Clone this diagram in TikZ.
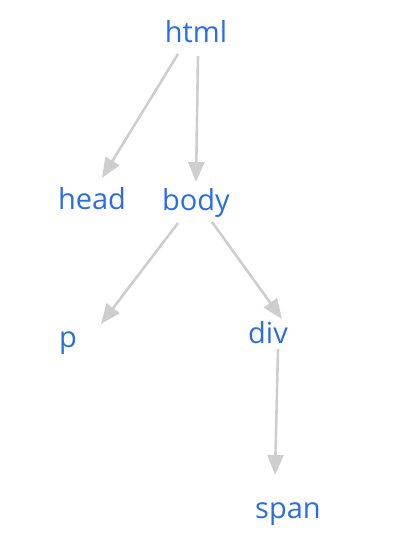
\documentclass[tikz,border=0pt]{standalone}
\usepackage{fontspec}
\setmainfont{Open Sans}
\usetikzlibrary{arrows.meta, calc}
\definecolor{TagBlue}{RGB}{42, 110, 228}
\definecolor{EdgeGray}{RGB}{206, 206, 206}
\tikzstyle{tag} = [text=TagBlue, font=\fontsize{29}{33}\selectfont, inner sep=3pt, text height=23pt, text depth=3pt]
\tikzstyle{arrow} = [-{Triangle[length=20pt, width=16pt]}, line width=2.6pt, EdgeGray]

\begin{document}
\begin{tikzpicture}[x=1pt, y=-1pt]
\useasboundingbox (0,0) rectangle (410,542);

% DOM nodes
\node (html) [tag] at (196,32) {html};
\node (head) [tag] at (92,199) {head};
\node (body) [tag] at (196,200) {body};
\node (p) [tag] at (68,337) {p};
\node (div) [tag] at (268,333) {div};
\node (span) [tag] at (288,508) {span};

% Arrows
\draw [arrow] ($(html)+(-18,22)$) -- ($(head)+(10,-21)$);
\draw [arrow] ($(html)+(2,24)$) -- ($(body)+(0,-18)$);
\draw [arrow] ($(body)+(-18,23)$) -- ($(p)+(33,-13)$);
\draw [arrow] ($(body)+(16,22)$) -- ($(div)+(14,-14)$);
\draw [arrow] ($(div)+(10,16)$) -- ($(span)+(-13,-33)$);

\end{tikzpicture}
\end{document}
